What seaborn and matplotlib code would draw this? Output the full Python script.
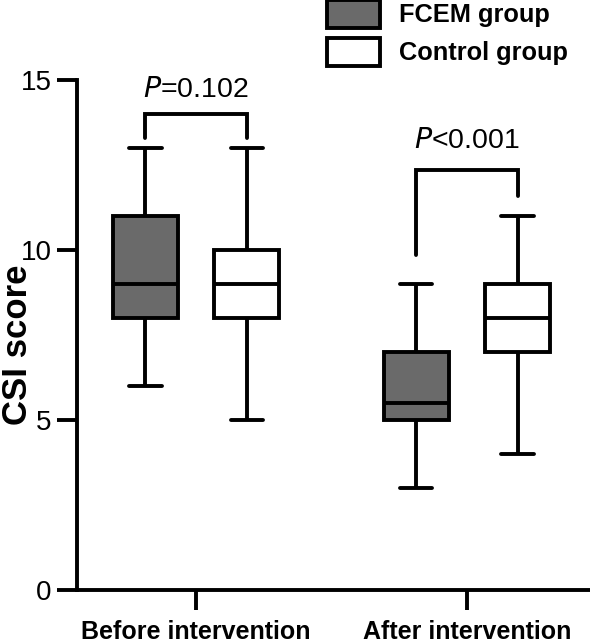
import pandas as pd
import matplotlib
matplotlib.use("Agg")
import matplotlib.pyplot as plt
import seaborn as sns

# ----------------------------
# data (five-number summaries)
# ----------------------------
phases = ["Before intervention", "After intervention"]
groups = ["FCEM group", "Control group"]

fcem_before = [6, 8, 9, 11, 13]
ctrl_before = [5, 8, 9, 10, 13]
fcem_after = [3, 5, 5.5, 7, 9]
ctrl_after = [4, 7, 8, 9, 11]

p_labels = ["=0.102", "<0.001"]
bracket_top = [14.0, 12.35]
bracket_legs = [(13.3, 13.3), (9.85, 11.6)]
p_text_y = [14.5, 13.0]

rows = []
for ph, g, vals in [(phases[0], groups[0], fcem_before),
                    (phases[0], groups[1], ctrl_before),
                    (phases[1], groups[0], fcem_after),
                    (phases[1], groups[1], ctrl_after)]:
    for v in vals:
        rows.append({"phase": ph, "group": g, "score": v})
df = pd.DataFrame(rows)

# ----------------------------
# style
# ----------------------------
sns.set_style("ticks")
plt.rcParams["font.family"] = ["Liberation Sans", "DejaVu Sans"]
plt.rcParams["text.color"] = "black"
plt.rcParams["axes.labelcolor"] = "black"
plt.rcParams["xtick.color"] = "black"
plt.rcParams["ytick.color"] = "black"
plt.rcParams["axes.edgecolor"] = "black"
lw = 2.8

fig = plt.figure(figsize=(5.9, 6.43), dpi=100)
ax = fig.add_axes([77 / 590, 53 / 643, 1 - 77 / 590, (590 - 80) / 643])

width = 0.75
sns.boxplot(data=df, x="phase", y="score", hue="group", order=phases,
            hue_order=groups, palette=["#6a6a6a", "white"], whis=(0, 100),
            width=width, gap=0.36, linecolor="black", linewidth=lw,
            showfliers=False, ax=ax)

ax.set_ylim(0, 15)
ax.set_xlim(-0.44, 1.455)
ax.set_yticks([0, 5, 10, 15])
ax.set_xlabel("")
ax.set_ylabel("CSI score", fontsize=25, fontweight="bold")
ax.yaxis.set_label_coords((34 - 77) / 513, 0.48)
sns.despine(ax=ax)
for s in ["left", "bottom"]:
    ax.spines[s].set_linewidth(lw)
ax.tick_params(axis="y", length=14.4, width=lw, labelsize=20, pad=4)
ax.tick_params(axis="x", length=14.4, width=lw, labelsize=18, pad=7)
for t in ax.get_xticklabels():
    t.set_fontweight("bold")

# significance brackets
off = width / 4
for i in range(2):
    x0, x1 = i - off, i + off
    ax.plot([x0, x0, x1, x1], [bracket_legs[i][0], bracket_top[i], bracket_top[i], bracket_legs[i][1]],
            color="black", lw=lw, solid_joinstyle="miter", clip_on=False)
    ax.text(i, p_text_y[i], "$\\mathit{P}$" + p_labels[i], ha="center", va="baseline",
            fontsize=20.5, clip_on=False)

sns.move_legend(ax, "upper left", bbox_to_anchor=(327 / 590, 1.0),
                bbox_transform=fig.transFigure, title=None, frameon=False,
                prop={"size": 18.3, "weight": "bold"}, handlelength=2.1,
                handleheight=1.3, handletextpad=0.75, labelspacing=0.4,
                borderpad=0, borderaxespad=0)
for h in ax.get_legend().legend_handles:
    h.set_linewidth(lw)
    h.set_edgecolor("black")

plt.savefig("out.png", dpi=100)
